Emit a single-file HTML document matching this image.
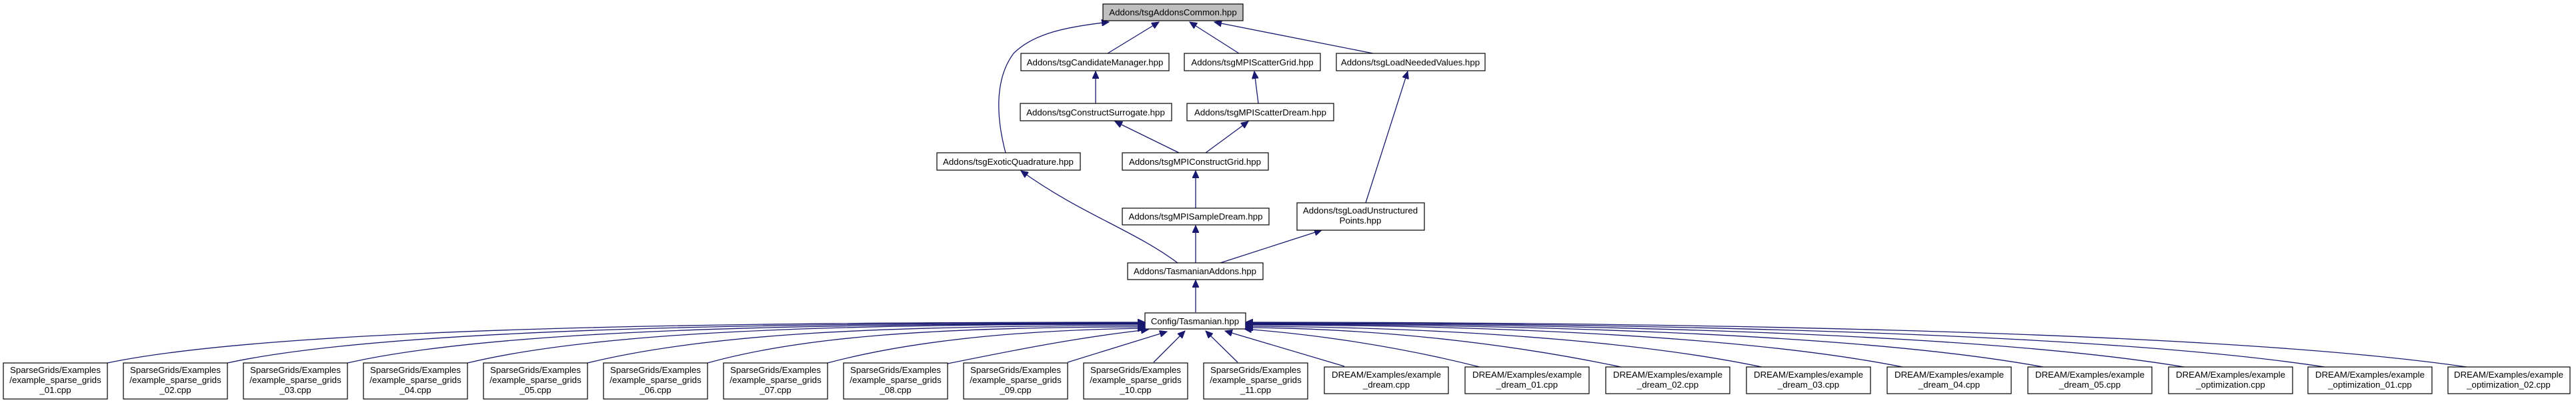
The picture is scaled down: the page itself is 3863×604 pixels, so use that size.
<!DOCTYPE html>
<html><head><meta charset="utf-8"><style>
html,body{margin:0;padding:0;background:#fff;}
svg{display:block;}
text{font-family:"Liberation Sans",Arial,sans-serif;font-size:13.3px;fill:#000;text-anchor:middle;}
.e{fill:none;stroke:#191970;stroke-width:1.3;marker-end:url(#a);}
.n{fill:#fff;stroke:#000;stroke-width:1.2;}
</style></head><body>
<svg width="3863" height="604" viewBox="0 0 3863 604" xmlns="http://www.w3.org/2000/svg">
<defs><marker id="a" markerUnits="userSpaceOnUse" markerWidth="12" markerHeight="10" refX="11" refY="5" orient="auto"><path d="M0,0 L11,5 L0,10 z" fill="#191970" stroke="#191970"/></marker></defs>
<path class="e" d="M1508,229 C1495,180 1490,120 1520,80 C1550,50 1600,40 1663,33"/>
<path class="e" d="M1661,80 L1738,33"/>
<path class="e" d="M1858,80 L1784,33"/>
<path class="e" d="M2059,80 L1821,33"/>
<path class="e" d="M1643,155 L1643,107"/>
<path class="e" d="M1887,155 L1881,107"/>
<path class="e" d="M1768,229 L1672,182"/>
<path class="e" d="M1808,229 L1872,182"/>
<path class="e" d="M2048,304 L2111,107"/>
<path class="e" d="M1766,394 C1700,345 1620,320 1531,256"/>
<path class="e" d="M1793,312 L1793,256"/>
<path class="e" d="M1793,394 L1793,338"/>
<path class="e" d="M1830,394 L1982,345"/>
<path class="e" d="M1793,468 L1793,420"/>
<rect x="1654" y="6" width="210" height="25" fill="#bfbfbf" stroke="#000" stroke-width="1.2"/><text x="1759" y="23">Addons/tsgAddonsCommon.hpp</text>
<rect class="n" x="1531" y="80" width="222" height="26"/><text x="1642" y="98">Addons/tsgCandidateManager.hpp</text>
<rect class="n" x="1776" y="80" width="204" height="26"/><text x="1878" y="98">Addons/tsgMPIScatterGrid.hpp</text>
<rect class="n" x="2004" y="80" width="223" height="26"/><text x="2115" y="98">Addons/tsgLoadNeededValues.hpp</text>
<rect class="n" x="1530" y="155" width="227" height="26"/><text x="1643" y="173">Addons/tsgConstructSurrogate.hpp</text>
<rect class="n" x="1780" y="155" width="220" height="26"/><text x="1890" y="173">Addons/tsgMPIScatterDream.hpp</text>
<rect class="n" x="1405" y="229" width="215" height="26"/><text x="1512" y="247">Addons/tsgExoticQuadrature.hpp</text>
<rect class="n" x="1683" y="229" width="219" height="26"/><text x="1792" y="247">Addons/tsgMPIConstructGrid.hpp</text>
<rect class="n" x="1683" y="312" width="220" height="25"/><text x="1793" y="329">Addons/tsgMPISampleDream.hpp</text>
<rect class="n" x="1945" y="304" width="191" height="41"/><text x="2040" y="320">Addons/tsgLoadUnstructured</text><text x="2040" y="335">Points.hpp</text>
<rect class="n" x="1691" y="394" width="203" height="25"/><text x="1792" y="411">Addons/TasmanianAddons.hpp</text>
<rect class="n" x="1717" y="469" width="151" height="24"/><text x="1792" y="486">Config/Tasmanian.hpp</text>
<path class="e" d="M161,544 C420,490 1100,483 1717,483"/>
<path class="e" d="M341,544 C580,492 1150,484 1717,484"/>
<path class="e" d="M521,544 C740,494 1200,485 1717,485"/>
<path class="e" d="M701,544 C900,496 1250,486 1717,486"/>
<path class="e" d="M881,544 C1060,500 1320,488 1717,488"/>
<path class="e" d="M1061,544 C1200,505 1400,490 1717,490"/>
<path class="e" d="M1241,544 C1350,515 1500,495 1717,492"/>
<path class="e" d="M1421,545 C1520,525 1620,505 1722,494"/>
<path class="e" d="M1601,543 L1750,497"/>
<path class="e" d="M1730,543 L1777,496"/>
<path class="e" d="M1856,543 L1808,496"/>
<path class="e" d="M2016,549 L1837,496"/>
<path class="e" d="M2219,550 C2100,520 1980,502 1866,493"/>
<path class="e" d="M2431,550 C2250,512 2050,492 1868,491"/>
<path class="e" d="M2642,550 C2430,506 2120,490 1868,489"/>
<path class="e" d="M2853,550 C2600,500 2180,487 1868,487"/>
<path class="e" d="M3064,550 C2780,498 2250,486 1868,486"/>
<path class="e" d="M3275,550 C2950,496 2300,485 1868,485"/>
<path class="e" d="M3486,550 C3120,494 2350,484 1868,484"/>
<path class="e" d="M3699,550 C3300,492 2400,483 1868,483"/>
<g>
<rect class="n" x="5" y="544" width="156" height="54"/><text x="83" y="559">SparseGrids/Examples</text><text x="83" y="574">/example_sparse_grids</text><text x="83" y="589">_01.cpp</text>
<rect class="n" x="185" y="544" width="156" height="54"/><text x="263" y="559">SparseGrids/Examples</text><text x="263" y="574">/example_sparse_grids</text><text x="263" y="589">_02.cpp</text>
<rect class="n" x="365" y="544" width="156" height="54"/><text x="443" y="559">SparseGrids/Examples</text><text x="443" y="574">/example_sparse_grids</text><text x="443" y="589">_03.cpp</text>
<rect class="n" x="545" y="544" width="156" height="54"/><text x="623" y="559">SparseGrids/Examples</text><text x="623" y="574">/example_sparse_grids</text><text x="623" y="589">_04.cpp</text>
<rect class="n" x="725" y="544" width="156" height="54"/><text x="803" y="559">SparseGrids/Examples</text><text x="803" y="574">/example_sparse_grids</text><text x="803" y="589">_05.cpp</text>
<rect class="n" x="905" y="544" width="156" height="54"/><text x="983" y="559">SparseGrids/Examples</text><text x="983" y="574">/example_sparse_grids</text><text x="983" y="589">_06.cpp</text>
<rect class="n" x="1085" y="544" width="156" height="54"/><text x="1163" y="559">SparseGrids/Examples</text><text x="1163" y="574">/example_sparse_grids</text><text x="1163" y="589">_07.cpp</text>
<rect class="n" x="1265" y="544" width="156" height="54"/><text x="1343" y="559">SparseGrids/Examples</text><text x="1343" y="574">/example_sparse_grids</text><text x="1343" y="589">_08.cpp</text>
<rect class="n" x="1445" y="544" width="156" height="54"/><text x="1523" y="559">SparseGrids/Examples</text><text x="1523" y="574">/example_sparse_grids</text><text x="1523" y="589">_09.cpp</text>
<rect class="n" x="1625" y="544" width="156" height="54"/><text x="1703" y="559">SparseGrids/Examples</text><text x="1703" y="574">/example_sparse_grids</text><text x="1703" y="589">_10.cpp</text>
<rect class="n" x="1805" y="544" width="156" height="54"/><text x="1883" y="559">SparseGrids/Examples</text><text x="1883" y="574">/example_sparse_grids</text><text x="1883" y="589">_11.cpp</text>
</g>
<g>
<rect class="n" x="1986" y="550" width="186" height="40"/><text x="2079" y="566">DREAM/Examples/example</text><text x="2079" y="581">_dream.cpp</text>
<rect class="n" x="2197" y="550" width="186" height="40"/><text x="2290" y="566">DREAM/Examples/example</text><text x="2290" y="581">_dream_01.cpp</text>
<rect class="n" x="2408" y="550" width="186" height="40"/><text x="2501" y="566">DREAM/Examples/example</text><text x="2501" y="581">_dream_02.cpp</text>
<rect class="n" x="2619" y="550" width="186" height="40"/><text x="2712" y="566">DREAM/Examples/example</text><text x="2712" y="581">_dream_03.cpp</text>
<rect class="n" x="2830" y="550" width="186" height="40"/><text x="2923" y="566">DREAM/Examples/example</text><text x="2923" y="581">_dream_04.cpp</text>
<rect class="n" x="3041" y="550" width="186" height="40"/><text x="3134" y="566">DREAM/Examples/example</text><text x="3134" y="581">_dream_05.cpp</text>
<rect class="n" x="3252" y="550" width="186" height="40"/><text x="3345" y="566">DREAM/Examples/example</text><text x="3345" y="581">_optimization.cpp</text>
<rect class="n" x="3461" y="550" width="186" height="40"/><text x="3554" y="566">DREAM/Examples/example</text><text x="3554" y="581">_optimization_01.cpp</text>
<rect class="n" x="3671" y="550" width="183" height="40"/><text x="3762" y="566">DREAM/Examples/example</text><text x="3762" y="581">_optimization_02.cpp</text>
</g>
</svg>
</body></html>
